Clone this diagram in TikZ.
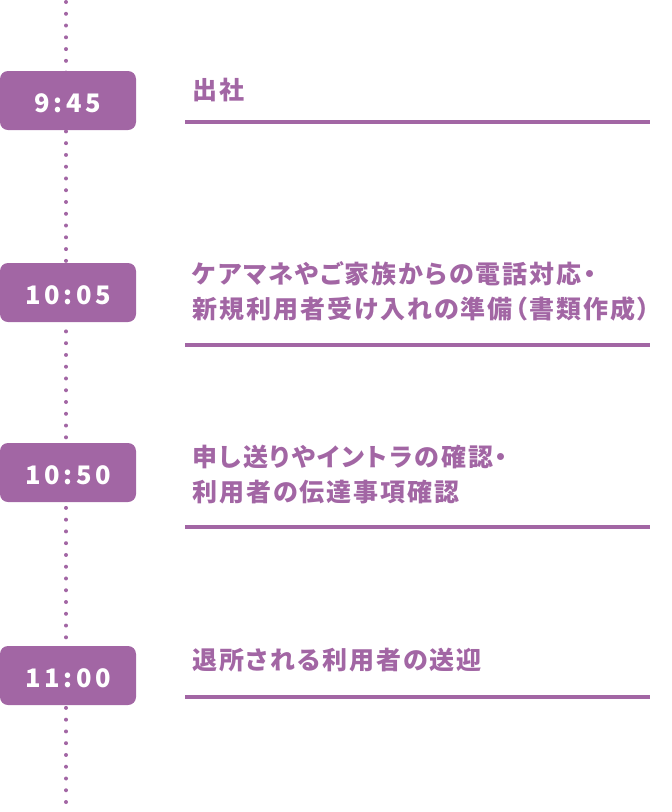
\documentclass[tikz,border=0pt]{standalone}
\usepackage{fontspec}
\newfontfamily\cjk{Noto Sans CJK JP}[LetterSpace=8,RawFeature=+palt]
\newfontfamily\cjktime{Noto Sans CJK JP}[LetterSpace=14]
\definecolor{accent}{RGB}{162,102,164}
\begin{document}
\begin{tikzpicture}[x=1pt,y=-1pt,
  badge/.style={fill=accent, rounded corners=8pt, minimum width=136pt,
    minimum height=59pt, inner sep=0pt, text=white, text height=23pt, text depth=0pt,
    font=\cjktime\bfseries\fontsize{25.5}{25.5}\selectfont},
  entry/.style={anchor=base west, inner sep=0pt, text=accent,
    font=\cjk\bfseries\fontsize{25}{35}\selectfont},
  rule/.style={draw=accent, line width=4pt},
  dotline/.style={draw=accent, line width=4pt, line cap=round, dash pattern=on 0pt off 11.765pt}]
\useasboundingbox (0,0) rectangle (672,812);
\coordinate (top) at (66,2);
\coordinate (bot) at (66,803);
\draw[dotline] (top) -- (bot);
% badges
\node[badge] (b1) at (68,100.5) {9:45};
\node[badge] (b2) at (68,292.5) {10:05};
\node[badge] (b3) at (68,472.5) {10:50};
\node[badge] (b4) at (68,675.5) {11:00};
% texts
\node[entry] (t1) at (192,99) {出社};
\node[entry] (t2a) at (192,283.5) {ケアマネやご家族からの電話対応・};
\node[entry] (t2b) at (192,318.5) {新規利用者受け入れの準備（書類作成）};
\node[entry] (t3a) at (192,466.5) {申し送りやイントラの確認・};
\node[entry] (t3b) at (192,501.5) {利用者の伝達事項確認};
\node[entry] (t4) at (192,669.5) {退所される利用者の送迎};
% rules
\coordinate (r1a) at (185,122); \coordinate (r1b) at (650,122);
\coordinate (r2a) at (185,345); \coordinate (r2b) at (650,345);
\coordinate (r3a) at (185,527); \coordinate (r3b) at (650,527);
\coordinate (r4a) at (185,697); \coordinate (r4b) at (650,697);
\draw[rule] (r1a) -- (r1b);
\draw[rule] (r2a) -- (r2b);
\draw[rule] (r3a) -- (r3b);
\draw[rule] (r4a) -- (r4b);
\end{tikzpicture}
\end{document}
